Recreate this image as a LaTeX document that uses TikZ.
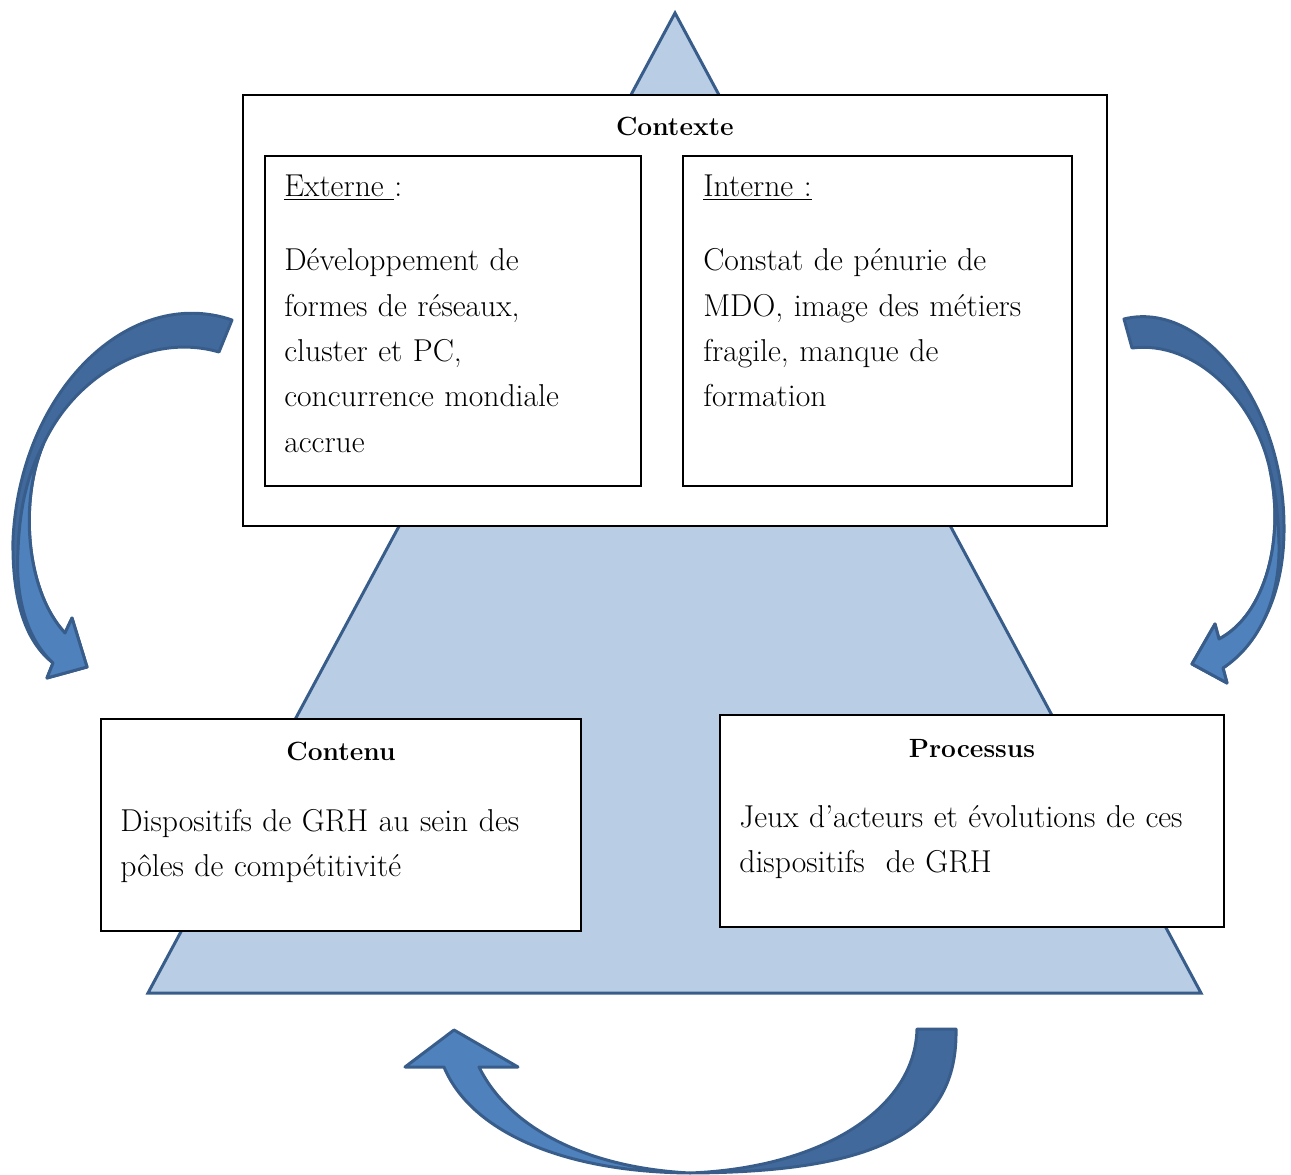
\documentclass[tikz,border=0pt]{standalone}
\usepackage{tikz}
\usepackage{xcolor}
\usetikzlibrary{positioning}

\definecolor{trifond}{RGB}{185,205,229}
\definecolor{bleu}{RGB}{56,93,138}
\definecolor{fleche}{RGB}{79,129,189}
\definecolor{flechedos}{RGB}{65,105,156}

\begin{document}
\begin{tikzpicture}[x=0.02cm,y=0.02cm,
	cadre/.style={draw, line width=1.1pt, fill=white, inner sep=0pt, anchor=north west},
	titre/.style={font=\bfseries\fontsize{15}{18}\selectfont, anchor=base, inner sep=0pt},
	texte/.style={font=\fontsize{18}{25.8}\selectfont, anchor=base west, inner sep=0pt, text width=#1, align=left},
	texte/.default=7cm,
	trait/.style={draw=bleu, line width=1.7pt, line join=round},
	avant/.style={fill=fleche},
	arriere/.style={fill=flechedos}]
	\useasboundingbox (0,0) rectangle (1291,-1175);

	% triangle
	\coordinate (sommet) at (675,-13);
	\coordinate (baseG) at (148,-993);
	\coordinate (baseD) at (1201,-993);
	\draw[trait, line join=miter, fill=trifond] (sommet) -- (baseD) -- (baseG) -- cycle;

	% cadres
	\node[cadre, minimum width=17.28cm, minimum height=8.62cm] (contexte) at (242,-94) {};
	\node[cadre, minimum width=7.52cm, minimum height=6.6cm] (externe) at (264,-155) {};
	\node[cadre, minimum width=7.78cm, minimum height=6.6cm] (interne) at (682,-155) {};
	\node[cadre, minimum width=9.6cm, minimum height=4.24cm] (contenu) at (100,-718) {};
	\node[cadre, minimum width=10.08cm, minimum height=4.24cm] (processus) at (719,-714) {};

	\node[titre] (t-contexte) at ([shift={(0,-42)}]contexte.north) {Contexte};
	\node[titre] (t-contenu) at ([shift={(0,-42)}]contenu.north) {Contenu};
	\node[titre] (t-processus) at ([shift={(0,-43)}]processus.north) {Processus};

	\node[texte] (l-externe) at ([shift={(20,-42)}]externe.north west) {\underline{Externe }:};
	\node[texte] (l-interne) at ([shift={(21,-42)}]interne.north west) {\underline{Interne :}};
	\node[texte] (c-externe) at ([shift={(20,-116)}]externe.north west)
		{Développement de\\formes de réseaux,\\cluster et PC,\\concurrence mondiale\\accrue};
	\node[texte] (c-interne) at ([shift={(21,-116)}]interne.north west)
		{Constat de pénurie de\\MDO, image des métiers\\fragile, manque de\\formation};
	\node[texte=9cm] (c-contenu) at ([shift={(20,-113)}]contenu.north west)
		{Dispositifs de GRH au sein des\\pôles de compétitivité};
	\node[texte=9.5cm] (c-processus) at ([shift={(20,-113)}]processus.north west)
		{Jeux d’acteurs et évolutions de ces\\dispositifs\ \ de GRH};

	% fleche gauche
	\path[trait, arriere] (232,-320) .. controls (130,-285) and (20,-390) .. (13,-540)
		.. controls (12,-610) and (30,-645) .. (53,-663) -- (47,-678) -- (87,-667) -- (72,-618) -- (65,-633)
		.. controls (25,-590) and (20,-500) .. (43,-445) .. controls (75,-375) and (150,-332) .. (219,-352) -- cycle;
	\path[trait, avant] (43,-445) .. controls (20,-500) and (25,-590) .. (65,-633)
		-- (72,-618) -- (87,-667) -- (47,-678) -- (53,-663)
		.. controls (28,-640) and (15,-600) .. (18,-550) .. controls (20,-500) and (30,-470) .. (43,-445) -- cycle;

	% fleche droite
	\path[trait, arriere] (1124,-319) .. controls (1200,-300) and (1283,-400) .. (1284,-525)
		.. controls (1285,-600) and (1255,-645) .. (1223,-668) -- (1227,-683) -- (1192,-664) -- (1215,-624) -- (1219,-639)
		.. controls (1265,-615) and (1285,-540) .. (1270,-470) .. controls (1255,-400) and (1195,-340) .. (1132,-348) -- cycle;
	\path[trait, avant] (1270,-470) .. controls (1285,-540) and (1265,-615) .. (1219,-639)
		-- (1215,-624) -- (1192,-664) -- (1227,-683) -- (1223,-668)
		.. controls (1258,-645) and (1280,-600) .. (1279,-545) .. controls (1278,-510) and (1275,-490) .. (1270,-470) -- cycle;

	% fleche du bas
	\path[trait, arriere] (917,-1029) -- (956,-1029) .. controls (958,-1130) and (880,-1172) .. (690,-1173)
		.. controls (820,-1168) and (915,-1110) .. (917,-1029) -- cycle;
	\path[trait, avant] (690,-1173) .. controls (560,-1172) and (470,-1130) .. (444,-1067)
		-- (405,-1067) -- (454,-1030) -- (518,-1067) -- (479,-1067)
		.. controls (510,-1130) and (590,-1168) .. (690,-1173) -- cycle;
\end{tikzpicture}
\end{document}
